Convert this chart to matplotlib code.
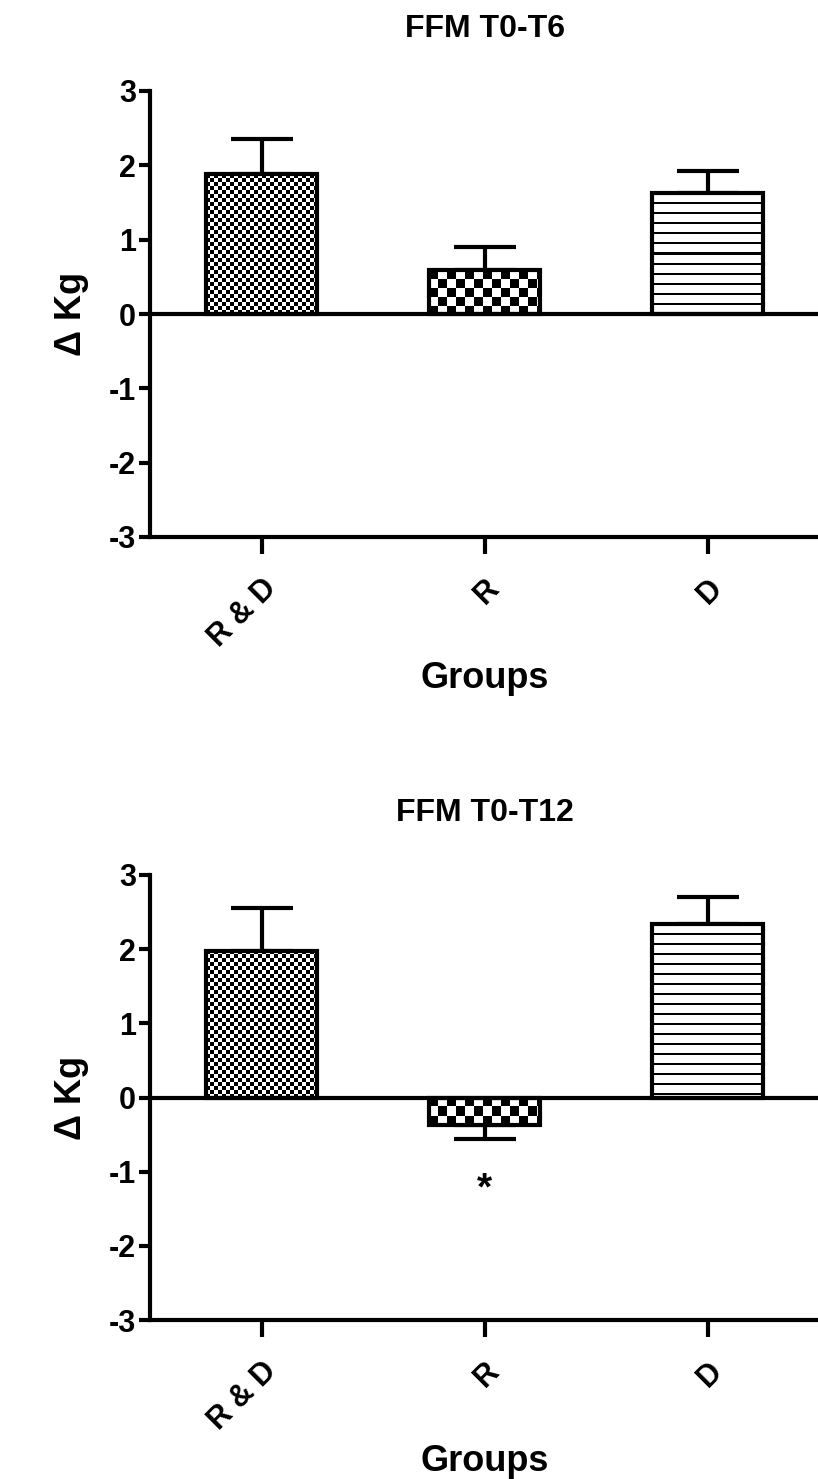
import numpy as np
import matplotlib
matplotlib.use("Agg")
import matplotlib.pyplot as plt

plt.rcParams['font.family'] = ['Liberation Sans', 'DejaVu Sans']
plt.rcParams['font.weight'] = 'bold'

# data
groups = ['R & D', 'R', 'D']
t6_mean = [1.88, 0.59, 1.63]
t6_err = [0.48, 0.31, 0.29]
t12_mean = [1.98, -0.37, 2.34]
t12_err = [0.58, 0.19, 0.37]
t12_marks = ['', '*', '']
y_ticks = [-3, -2, -1, 0, 1, 2, 3]

patterns = ['fine', 'coarse', 'stripes']


def pattern_image(kind, w, h):
    yy, xx = np.mgrid[0:h, 0:w]
    if kind == 'fine':
        c = 4
        img = ((xx // c + yy // c) % 2)
    elif kind == 'coarse':
        c = 9
        img = ((xx // c + yy // c) % 2)
    else:
        img = np.where((yy % 10) < 2, 0, 1)
    return img.astype(float)


def draw_panel(fig, rect, title, means, errs, marks=None):
    ax = fig.add_axes(rect)
    x = np.arange(len(groups))
    ax.set_xlim(-0.5, 2.5)
    ax.set_ylim(-3, 3)

    bars = ax.bar(x, means, width=0.5, facecolor='none', edgecolor='black',
                  linewidth=3, zorder=3)

    # fill each bar with its pattern
    for b, kind in zip(bars, patterns):
        x0, y0 = b.get_x(), b.get_y()
        x1, y1 = x0 + b.get_width(), y0 + b.get_height()
        p0 = ax.transData.transform((x0, min(y0, y1)))
        p1 = ax.transData.transform((x1, max(y0, y1)))
        w = max(int(round(p1[0] - p0[0])), 1)
        h = max(int(round(p1[1] - p0[1])), 1)
        img = pattern_image(kind, w, h)
        ax.imshow(img, cmap='gray', vmin=0, vmax=1, interpolation='nearest',
                  extent=(x0, x1, min(y0, y1), max(y0, y1)),
                  aspect='auto', zorder=2)

    # one-sided error bars
    lower = [e if m < 0 else 0 for m, e in zip(means, errs)]
    upper = [e if m >= 0 else 0 for m, e in zip(means, errs)]
    ax.errorbar(x, means, yerr=[lower, upper], fmt='none', ecolor='black',
                elinewidth=3, capsize=22, capthick=3, zorder=1)

    ax.axhline(0, color='black', lw=3, zorder=4)
    ax.set_xlim(-0.5, 2.5)
    ax.set_ylim(-3, 3)

    if marks:
        for xi, s in zip(x, marks):
            if s:
                ax.text(xi, -1.24, s, ha='center', va='center', fontsize=28,
                        fontweight='bold')

    for s in ['top', 'right']:
        ax.spines[s].set_visible(False)
    for s in ['left', 'bottom']:
        ax.spines[s].set_linewidth(3)
    ax.set_yticks(y_ticks)
    ax.set_yticklabels([str(t) for t in y_ticks])
    ax.set_xticks(x)
    ax.set_xticklabels(groups, rotation=45, ha='right', rotation_mode='anchor')
    ax.tick_params(axis='y', length=8, width=3, labelsize=22, pad=2)
    ax.tick_params(axis='x', length=12, width=3, labelsize=22, pad=14)
    ax.set_ylabel('Δ Kg', fontsize=26, fontweight='bold', labelpad=14)
    ax.set_xlabel('Groups', fontsize=26, fontweight='bold', labelpad=6)
    ax.set_title(title, fontsize=23, fontweight='bold', pad=39)
    return ax


fig = plt.figure(figsize=(8.18, 14.79), dpi=100)
draw_panel(fig, [150 / 818, 1 - 537 / 1479, 669 / 818, 446 / 1479],
           'FFM T0-T6', t6_mean, t6_err)
draw_panel(fig, [150 / 818, 1 - 1320 / 1479, 669 / 818, 445 / 1479],
           'FFM T0-T12', t12_mean, t12_err, t12_marks)

fig.savefig('out.png', dpi=100)
